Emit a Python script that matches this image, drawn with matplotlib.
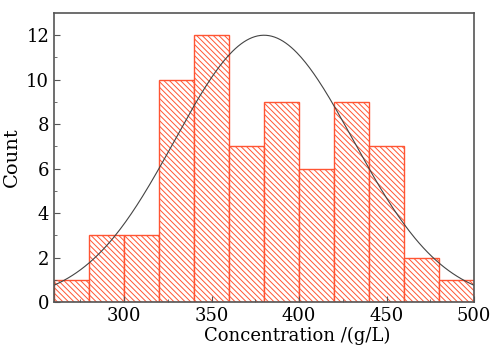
import matplotlib
matplotlib.use('Agg')
import matplotlib.pyplot as plt
import numpy as np

# histogram bins (g/L) and counts
bin_edges = [260, 280, 300, 320, 340, 360, 380, 400, 420, 440, 460, 480, 500]
counts = [1, 3, 3, 10, 12, 7, 9, 6, 9, 7, 2, 1]

# fitted normal curve parameters
fit_center = 380.0
fit_sigma = 51.0
fit_peak = 12.0

BAR_COLOR = '#FF5533'

plt.rcParams['font.family'] = 'DejaVu Serif'
plt.rcParams['hatch.linewidth'] = 0.7
plt.rcParams['hatch.color'] = BAR_COLOR

fig = plt.figure(figsize=(4.91, 3.46), dpi=100)
ax = fig.add_axes([54 / 491, 44 / 346, 420 / 491, 289 / 346])

lefts = bin_edges[:-1]
widths = np.diff(bin_edges)
ax.bar(lefts, counts, width=widths, align='edge', facecolor='white',
       edgecolor=BAR_COLOR, linewidth=1.0, hatch='\\' * 6)

xs = np.linspace(bin_edges[0], bin_edges[-1], 300)
ax.plot(xs, fit_peak * np.exp(-(xs - fit_center) ** 2 / (2 * fit_sigma ** 2)),
        color='#444444', linewidth=0.8)

ax.set_xlim(260, 500)
ax.set_ylim(0, 13)
ax.set_xticks([300, 350, 400, 450, 500])
ax.set_xticks(np.arange(275, 500, 50), minor=True)
ax.set_yticks([0, 2, 4, 6, 8, 10, 12])
ax.set_yticks(np.arange(1, 13, 2), minor=True)
ax.tick_params(which='both', direction='in', labelsize=13, color='#555555')
ax.tick_params(which='major', length=4)
ax.tick_params(which='minor', length=2.5)
for s in ax.spines.values():
    s.set_color('#555555')
    s.set_linewidth(1.2)

ax.set_xlabel('Concentration /(g/L)', fontsize=13)
ax.xaxis.set_label_coords(0.578, -0.085)
ax.set_ylabel('Count', fontsize=14, labelpad=4)

fig.savefig('out.png', dpi=100)
